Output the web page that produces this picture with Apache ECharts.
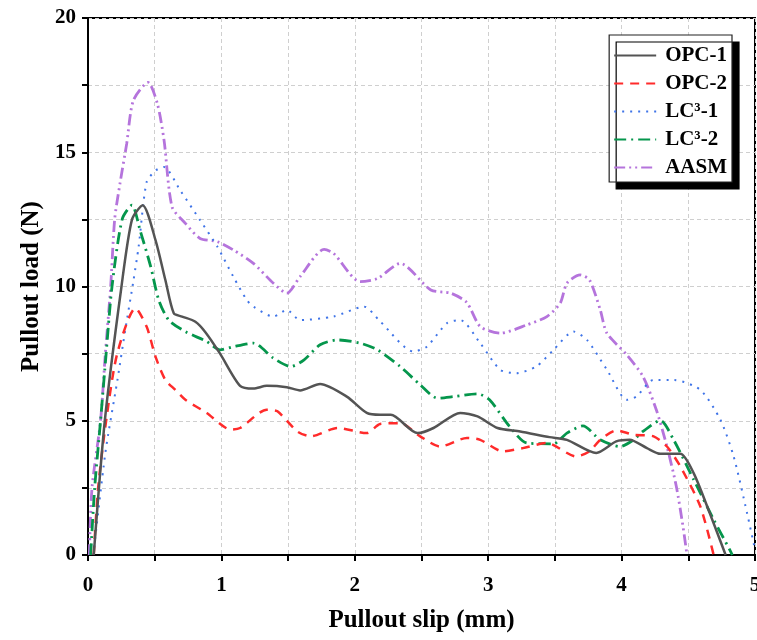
<!DOCTYPE html>
<html><head><meta charset="utf-8">
<script src="https://cdn.jsdelivr.net/npm/echarts@6/dist/echarts.min.js"></script>
<style>html,body{margin:0;padding:0;background:#fff}#c{width:757px;height:640px}</style>
</head><body><div id="c"></div>
<script>
const seriesNames = ['OPC-1', 'OPC-2', 'LC\u00B3-1', 'LC\u00B3-2', 'AASM'];
const xTicks = [0, 1, 2, 3, 4, 5];
const yTicks = [0, 5, 10, 15, 20];

const opc1 = [[0.043,0],[0.126,5],[0.251,10],[0.33,12.5],[0.41,13.03],[0.506,11.73],[0.58,10.24],[0.643,9.0],[0.705,8.88],[0.805,8.69],[0.88,8.3],[0.99,7.5],[1.14,6.3],[1.24,6.2],[1.34,6.3],[1.49,6.25],[1.59,6.13],[1.74,6.37],[1.94,5.9],[2.09,5.29],[2.19,5.22],[2.27,5.22],[2.47,4.54],[2.59,4.73],[2.79,5.29],[2.92,5.16],[3.07,4.73],[3.24,4.6],[3.46,4.39],[3.59,4.29],[3.81,3.8],[3.96,4.23],[4.06,4.29],[4.19,3.98],[4.29,3.77],[4.44,3.77],[4.54,3.05],[4.66,1.57],[4.78,0]];
const opc2 = [[0.043,0],[0.076,2.5],[0.136,5],[0.219,7.5],[0.356,9.19],[0.44,8.5],[0.506,7.39],[0.58,6.52],[0.655,6.15],[0.73,5.78],[0.89,5.29],[1.07,4.67],[1.14,4.73],[1.34,5.41],[1.42,5.35],[1.57,4.6],[1.67,4.42],[1.87,4.73],[2.09,4.54],[2.19,4.88],[2.34,4.91],[2.49,4.42],[2.64,4.04],[2.84,4.36],[2.94,4.29],[3.11,3.86],[3.26,3.98],[3.44,4.17],[3.66,3.67],[3.76,3.86],[3.84,4.29],[3.96,4.64],[4.09,4.48],[4.24,4.42],[4.34,4.04],[4.44,3.3],[4.59,1.81],[4.69,0]];
const lc31 = [[0.04,0],[0.13,3.8],[0.22,6.5],[0.28,8.4],[0.34,10.2],[0.38,11.5],[0.44,13.9],[0.51,14.33],[0.57,14.45],[0.69,13.59],[0.84,12.47],[0.97,11.48],[1.09,10.36],[1.19,9.5],[1.24,9.25],[1.39,8.88],[1.49,9.13],[1.59,8.75],[1.84,8.88],[2.07,9.25],[2.19,8.7],[2.44,7.58],[2.54,7.76],[2.69,8.63],[2.79,8.75],[2.94,7.89],[3.09,6.9],[3.21,6.77],[3.36,7.02],[3.49,7.64],[3.64,8.32],[3.74,8.01],[3.89,6.9],[4.04,5.78],[4.11,5.9],[4.24,6.52],[4.39,6.52],[4.59,6.15],[4.74,5.04],[4.84,3.67],[4.94,1.57],[5.0,0.2]];
const lc32 = [[0.02,0],[0.05,2.5],[0.094,5],[0.136,7.5],[0.18,10],[0.256,12.5],[0.33,13.03],[0.39,12.1],[0.47,10.74],[0.53,9.5],[0.605,8.75],[0.73,8.32],[0.89,7.95],[0.99,7.64],[1.09,7.76],[1.24,7.89],[1.39,7.33],[1.52,7.02],[1.62,7.27],[1.74,7.83],[1.87,8.01],[2.04,7.89],[2.17,7.64],[2.34,7.02],[2.49,6.34],[2.62,5.84],[2.74,5.9],[2.92,6.0],[3.01,5.78],[3.16,4.79],[3.29,4.17],[3.49,4.14],[3.59,4.54],[3.71,4.81],[3.84,4.29],[3.99,4.04],[4.09,4.29],[4.16,4.6],[4.29,5.01],[4.39,4.29],[4.54,2.81],[4.69,1.32],[4.81,0.2],[4.83,0]];
const aasm = [[0.01,0],[0.03,2.5],[0.094,5],[0.13,7.5],[0.17,10],[0.2,12.5],[0.24,13.84],[0.29,15.32],[0.34,16.93],[0.45,17.6],[0.52,16.81],[0.57,15.45],[0.63,12.97],[0.73,12.35],[0.84,11.79],[0.97,11.67],[1.09,11.36],[1.24,10.86],[1.39,10.12],[1.49,9.75],[1.59,10.37],[1.77,11.38],[1.84,11.24],[2.04,10.18],[2.17,10.3],[2.34,10.86],[2.57,9.87],[2.72,9.75],[2.84,9.4],[2.94,8.51],[3.09,8.26],[3.29,8.57],[3.44,8.88],[3.54,9.38],[3.59,10.12],[3.69,10.43],[3.76,10.24],[3.84,9.13],[3.89,8.26],[4.04,7.45],[4.16,6.65],[4.26,5.41],[4.34,4.04],[4.41,2.56],[4.46,1.07],[4.49,0]];

const dataSets = [opc1, opc2, lc31, lc32, aasm];
const colors = ['#545454', '#ff2b2b', '#3f74e8', '#05964c', '#b574dc'];
const dashes = ['solid', [9, 7], [2, 6], [12, 5, 2, 5], [11, 4, 2, 4, 2, 4]];
const widths = [2.5, 2.5, 2, 2.8, 2.8];

const font = '"Liberation Serif", "Times New Roman", serif';
const chart = echarts.init(document.getElementById('c'), null, {renderer: 'canvas'});
chart.setOption({
  animation: false,
  backgroundColor: '#fff',
  grid: {left: 88, right: 2, top: 18, bottom: 85, outerBoundsMode: 'none', containLabel: false,
    show: true, borderColor: '#000', borderWidth: 2, backgroundColor: 'transparent'},
  xAxis: {
    type: 'value', min: 0, max: 5, interval: 0.5,
    name: 'Pullout slip (mm)', nameLocation: 'middle', nameGap: 53,
    nameTextStyle: {fontFamily: font, fontWeight: 'bold', fontSize: 25, color: '#000'},
    axisLine: {lineStyle: {color: '#000', width: 2}},
    axisTick: {show: true, inside: false, length: 6, lineStyle: {color: '#000', width: 2}},
    axisLabel: {margin: 20, fontFamily: font, fontWeight: 'bold', fontSize: 21, color: '#000',
      formatter: v => xTicks.includes(v) ? String(v) : ''},
    splitLine: {show: true, lineStyle: {color: '#cfcfcf', type: [4, 3], width: 1}}
  },
  yAxis: {
    type: 'value', min: 0, max: 20, interval: 2.5,
    name: 'Pullout load (N)', nameLocation: 'middle', nameGap: 31, nameRotate: 90,
    nameTextStyle: {fontFamily: font, fontWeight: 'bold', fontSize: 25, color: '#000'},
    axisLine: {show: true, lineStyle: {color: '#000', width: 2}},
    axisTick: {show: true, inside: false, length: 6, lineStyle: {color: '#000', width: 2}},
    axisLabel: {margin: 12, fontFamily: font, fontWeight: 'bold', fontSize: 21, color: '#000',
      formatter: v => yTicks.includes(v) ? String(v) : ''},
    splitLine: {show: true, lineStyle: {color: '#cfcfcf', type: [4, 3], width: 1}}
  },
  legend: {
    orient: 'vertical', right: 25, top: 35,
    padding: [10, 5, 4, 4], itemGap: 7, itemWidth: 42, itemHeight: 22,
    backgroundColor: '#fff', borderColor: '#222', borderWidth: 1.2,
    shadowColor: '#000', shadowOffsetX: 7, shadowOffsetY: 7, shadowBlur: 0,
    itemStyle: {opacity: 0},
    textStyle: {fontFamily: font, fontWeight: 'bold', fontSize: 21, color: '#000', padding: [0, 0, 0, 4]},
    data: seriesNames
  },
  series: dataSets.map((d, i) => ({
    name: seriesNames[i], type: 'line', data: d, smooth: 0.25,
    showSymbol: false, symbol: 'none',
    itemStyle: {color: colors[i]},
    lineStyle: {color: colors[i], width: widths[i], type: dashes[i]},
    z: 5 - i
  }))
});
</script></body></html>
